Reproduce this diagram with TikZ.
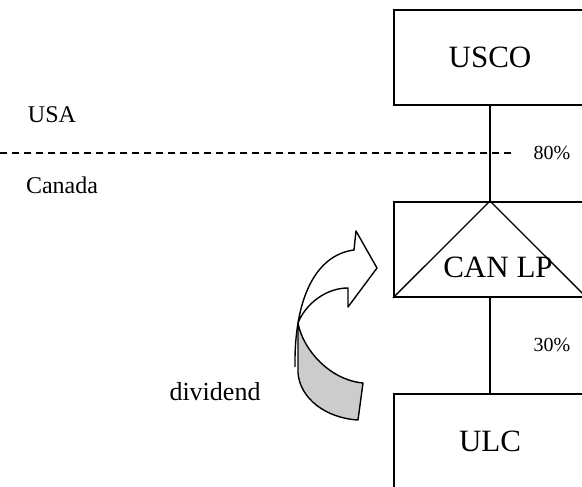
\documentclass[tikz,border=0pt]{standalone}
\usepackage{fontspec}
\setmainfont{Liberation Serif}
\usetikzlibrary{positioning}

\begin{document}
\begin{tikzpicture}[
        x=1pt, y=-1pt,
        entity/.style={rectangle, draw, line width=1.9pt, minimum width=192pt, minimum height=95pt, font=\fontsize{31}{31}\selectfont},
        country/.style={font=\fontsize{24}{24}\selectfont},
        share/.style={font=\fontsize{20}{20}\selectfont},
        link/.style={line width=1.9pt},
        border/.style={line width=1.5pt, dash pattern=on 7pt off 5pt},
        divarrow/.style={line width=1.4pt, line join=round},
        node distance=95pt,
        ]
    \useasboundingbox (0,0) rectangle (582,487);
    \clip (0,0) rectangle (582,487);

        % Nodes
        \node[entity] (USCO) at (490,57.5) {USCO};
        \node[entity, below=of USCO] (CANLP) {};
        \node[font=\fontsize{31}{31}\selectfont] (CANLPText) at (498,267) {CAN LP};
        \node[entity, below=of CANLP] (ULC) {ULC};

        % Countries and border
        \node[country] (USA) at (52,115) {USA};
        \node[country] (Canada) at (62,185) {Canada};
        \coordinate (BorderW) at (0,153);
        \coordinate (BorderE) at (513,153);
        \draw[border] (BorderW) -- (BorderE);

        % Ownership lines
        \draw[link] (USCO) -- (CANLP);
        \draw[link] (CANLP) -- (ULC);
        \draw[line width=1.3pt] (CANLP.south west) -- (CANLP.north) -- (CANLP.south east);
        \node[share] (ShareUSCO) at (552,153) {80\%};
        \node[share] (ShareCANLP) at (552,345) {30\%};

        % Dividend arrow
        \draw[divarrow, fill=white] (295,367) .. controls (294,300) and (315,255) .. (354,250)
            -- (356,231) -- (377,268) -- (348,307) -- (348,288)
            .. controls (325,288) and (305,305) .. (298,323);
        \draw[divarrow, fill=black!20] (298,323) .. controls (303,350) and (330,380) .. (363,383)
            -- (358,420) .. controls (325,418) and (300,398) .. (298,373) -- cycle;
        \node[font=\fontsize{26}{26}\selectfont] (Dividend) at (215,392) {dividend};

\end{tikzpicture}
\end{document}
